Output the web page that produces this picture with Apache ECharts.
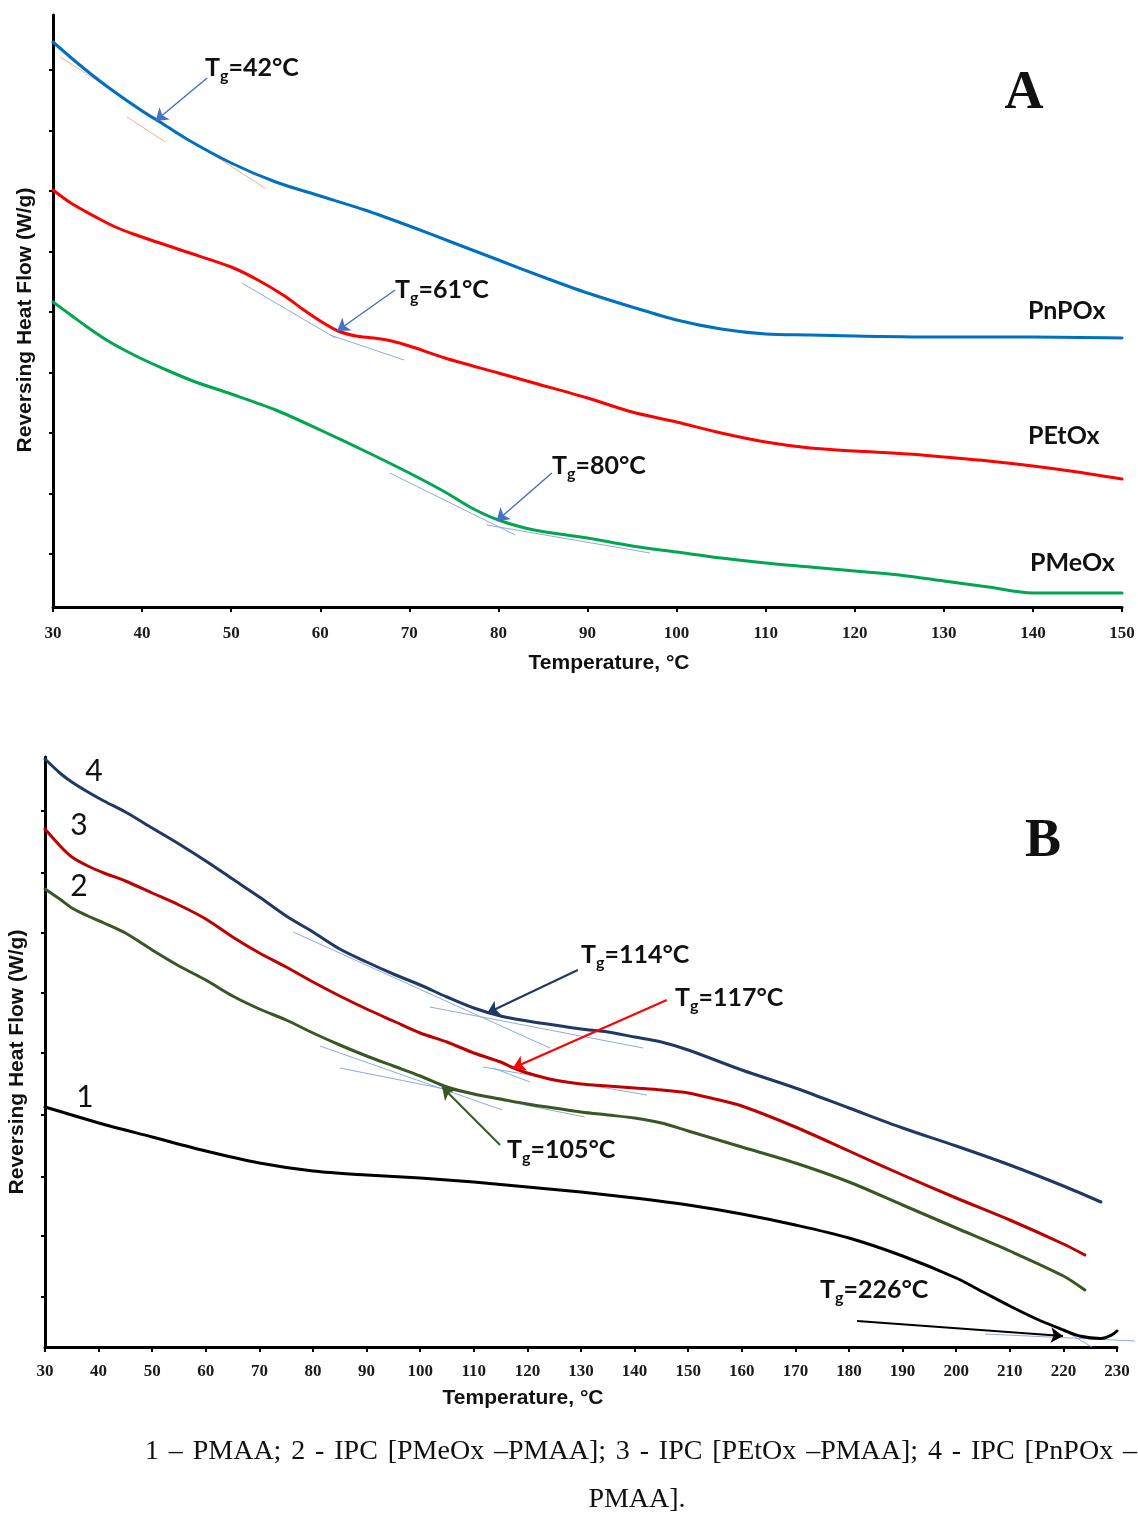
<!DOCTYPE html>
<html>
<head>
<meta charset="utf-8">
<title>Reversing heat flow</title>
<script src="https://cdn.jsdelivr.net/npm/echarts@6.0.0/dist/echarts.min.js"></script>
<style>
  html, body { margin: 0; padding: 0; background: #ffffff; }
  #wrap { position: relative; width: 1138px; height: 1514px; overflow: hidden; }
  #chart { position: absolute; left: 0; top: 0; width: 1138px; height: 1514px; }
  .caption { position: absolute; font-family: "Liberation Serif", "Times New Roman", serif; font-size: 28px; color: #111; white-space: nowrap; line-height: 1; }
  #cap1 { left: 145px; top: 1436px; width: 992px; text-align: justify; text-align-last: justify; white-space: normal; }
  #cap2 { left: 0; top: 1484px; width: 1274px; text-align: center; }
</style>
</head>
<body>
<div id="wrap">
  <div id="chart"></div>
  <div class="caption" id="cap1"></div>
  <div class="caption" id="cap2"></div>
</div>
<script>
// ---------- Panel A: poly(2-oxazoline)s, reversing heat flow (arb. W/g) ----------
const xTicksA = [30, 40, 50, 60, 70, 80, 90, 100, 110, 120, 130, 140, 150];
const yRangeA = [0, 5.92];
const yTicksA = [0.53, 1.135, 1.74, 2.345, 2.95, 3.555, 4.16, 4.765, 5.37];

const tempPnPOx = [30, 33, 36, 40, 42, 45, 50, 55, 60, 65, 70, 75, 80, 85, 90, 95, 100, 105, 110, 115, 120, 130, 140, 150];
const hfPnPOx   = [5.65, 5.42, 5.21, 4.96, 4.85, 4.68, 4.44, 4.25, 4.11, 3.97, 3.81, 3.64, 3.47, 3.30, 3.14, 3.00, 2.87, 2.78, 2.73, 2.72, 2.71, 2.70, 2.70, 2.69];

const tempPEtOx = [30, 32, 35, 37, 39, 42, 45, 50, 53, 56, 58, 60, 62, 64, 66, 68, 70, 74, 80, 84, 90, 95, 100, 105, 110, 115, 120, 126, 130, 135, 140, 145, 150];
const hfPEtOx   = [4.17, 4.04, 3.89, 3.80, 3.73, 3.64, 3.55, 3.40, 3.27, 3.11, 2.98, 2.86, 2.76, 2.71, 2.69, 2.66, 2.61, 2.49, 2.34, 2.24, 2.09, 1.95, 1.85, 1.74, 1.65, 1.59, 1.56, 1.53, 1.50, 1.46, 1.41, 1.35, 1.28];

const tempPMeOx = [30, 32, 34, 36, 38, 40, 43, 46, 50, 55, 60, 65, 70, 74, 77, 80, 84, 90, 95, 100, 105, 110, 115, 120, 125, 130, 135, 140, 145, 150];
const hfPMeOx   = [3.05, 2.92, 2.79, 2.67, 2.57, 2.48, 2.36, 2.25, 2.13, 1.97, 1.77, 1.56, 1.34, 1.15, 0.99, 0.87, 0.77, 0.69, 0.61, 0.55, 0.49, 0.44, 0.40, 0.36, 0.32, 0.26, 0.20, 0.14, 0.14, 0.14];

// tangent construction lines [T1, HF1, T2, HF2]
const tangentsPnPOx = [[30.8, 5.50, 53.8, 4.19], [38.3, 4.90, 42.6, 4.65]];
const tangentsPEtOx = [[51.2, 3.24, 61.7, 2.69], [61.1, 2.72, 69.4, 2.47]];
const tangentsPMeOx = [[67.8, 1.34, 81.9, 0.72], [78.7, 0.82, 97.0, 0.54]];

// glass transitions: label, arrow tail [T, HF], arrow tip [T, HF]
const tgLabelsA = ['42', '61', '80'];
const tgTailsA  = [[47.3, 5.29], [68.4, 3.17], [86.0, 1.34]];
const tgTipsA   = [[41.5, 4.86], [61.9, 2.76], [79.8, 0.86]];

// ---------- Panel B: PMAA and its interpolymer complexes ----------
const xTicksB = [30, 40, 50, 60, 70, 80, 90, 100, 110, 120, 130, 140, 150, 160, 170, 180, 190, 200, 210, 220, 230];
const yRangeB = [0, 5.90];
const yTicksB = [0.50, 1.11, 1.70, 2.32, 2.94, 3.54, 4.14, 4.74, 5.36];

const temp4 = [30, 33, 35, 38, 41, 45, 50, 55, 60, 65, 70, 75, 80, 85, 90, 95, 100, 105, 110, 115, 120, 125, 130, 135, 140, 145, 150, 160, 170, 180, 190, 200, 210, 220, 227];
const hf4   = [5.88, 5.73, 5.65, 5.55, 5.46, 5.35, 5.19, 5.03, 4.86, 4.68, 4.50, 4.31, 4.15, 3.98, 3.85, 3.73, 3.62, 3.50, 3.39, 3.31, 3.26, 3.22, 3.18, 3.15, 3.10, 3.05, 2.97, 2.77, 2.59, 2.39, 2.19, 2.01, 1.82, 1.61, 1.45];

const temp3 = [30, 33, 35, 38, 41, 45, 50, 55, 60, 65, 70, 75, 80, 85, 90, 95, 100, 105, 110, 115, 117, 120, 125, 130, 135, 140, 145, 150, 155, 160, 170, 180, 190, 200, 210, 220, 224];
const hf3   = [5.18, 5.00, 4.90, 4.81, 4.74, 4.66, 4.54, 4.42, 4.28, 4.10, 3.94, 3.80, 3.65, 3.51, 3.38, 3.26, 3.14, 3.05, 2.94, 2.85, 2.80, 2.74, 2.67, 2.63, 2.61, 2.59, 2.57, 2.54, 2.48, 2.41, 2.20, 1.96, 1.72, 1.49, 1.27, 1.03, 0.92];

const temp2 = [30, 33, 35, 38, 41, 45, 50, 55, 60, 65, 70, 75, 80, 85, 90, 95, 100, 105, 110, 115, 120, 125, 130, 135, 140, 145, 150, 160, 170, 180, 190, 200, 210, 220, 224];
const hf2   = [4.58, 4.47, 4.39, 4.31, 4.24, 4.14, 3.97, 3.81, 3.67, 3.51, 3.38, 3.27, 3.14, 3.02, 2.91, 2.81, 2.71, 2.60, 2.53, 2.48, 2.43, 2.39, 2.35, 2.32, 2.29, 2.24, 2.16, 2.00, 1.84, 1.65, 1.42, 1.19, 0.96, 0.71, 0.57];

const temp1 = [30, 35, 40, 50, 60, 70, 80, 90, 100, 110, 120, 130, 140, 150, 160, 170, 180, 190, 200, 205, 210, 215, 220, 223, 227, 229, 230];
const hf1   = [2.40, 2.32, 2.24, 2.10, 1.96, 1.84, 1.76, 1.72, 1.69, 1.65, 1.60, 1.55, 1.49, 1.42, 1.33, 1.22, 1.09, 0.91, 0.69, 0.55, 0.41, 0.28, 0.17, 0.11, 0.085, 0.12, 0.16];

const tangents4 = [[76.3, 4.15, 124.2, 2.99], [101.8, 3.40, 141.6, 2.99]];
const tangents3 = [[113.6, 2.79, 120.5, 2.65], [111.7, 2.80, 142.3, 2.52]];
const tangents2 = [[81.3, 3.01, 115.3, 2.37], [85.0, 2.79, 130.7, 2.30]];
const tangents1 = [[205.4, 0.13, 233.4, 0.06], [219.4, 0.19, 225.3, 0.00]];

const tgLabelsB = ['114', '117', '105', '226'];
const tgTailsB  = [[129.4, 3.77], [146.0, 3.47], [114.9, 2.02], [181.5, 0.26]];
const tgTipsB   = [[112.5, 3.34], [117.3, 2.79], [104.1, 2.60], [219.9, 0.11]];

const curveNamesA = ['PnPOx', 'PEtOx', 'PMeOx'];
const curveNumbersB = ['4', '3', '2', '1'];
const caption = ['1 – PMAA; 2 - IPC [PMeOx –PMAA]; 3 - IPC [PEtOx –PMAA]; 4 - IPC [PnPOx –', 'PMAA].'];

// ---------- styling ----------
const SANS = 'Lato, "Open Sans", "DejaVu Sans", sans-serif';
const ARIAL = '"Liberation Sans", Arial, sans-serif';
const SERIF = '"Liberation Serif", "Times New Roman", serif';
const TANGENT_BLUE = '#8eaadb';
const TANGENT_ORANGE = '#f4b183';

const pair = (xs, ys) => xs.map((x, i) => [x, ys[i]]);
const segs = (list, color) => list.map(s => ({ coords: [[s[0], s[1]], [s[2], s[3]]], lineStyle: { color: color } }));
const arrows = (tails, tips, colors) => tails.map((t, i) => ({ coords: [t, tips[i]], lineStyle: { color: colors[i] } }));

function curve(idx, temps, vals, color) {
  return {
    type: 'line', xAxisIndex: idx, yAxisIndex: idx,
    data: pair(temps, vals), smooth: 0.3,
    symbol: 'none', silent: true, z: 3,
    lineStyle: { color: color, width: 3, cap: 'round', join: 'round' }
  };
}
function lineSet(idx, data, width, withArrow, z) {
  return {
    type: 'lines', coordinateSystem: 'cartesian2d', xAxisIndex: idx, yAxisIndex: idx,
    polyline: false, silent: true, clip: false, z: z, animation: false,
    symbol: withArrow ? ['none', 'arrow'] : ['none', 'none'],
    symbolSize: withArrow ? 12 : 0,
    lineStyle: { width: width, opacity: 1, curveness: 0 },
    data: data
  };
}
function xAxis(idx, ticks, margin) {
  return {
    type: 'value', gridIndex: idx, min: ticks[0], max: ticks[ticks.length - 1], interval: 10,
    axisLine: { show: true, onZero: false, lineStyle: { color: '#000', width: 3 } },
    axisTick: { show: true, inside: false, length: 5, lineStyle: { color: '#000', width: 2 } },
    axisLabel: { show: true, margin: margin, color: '#1a1a1a', fontFamily: SERIF, fontWeight: 'bold', fontSize: 17 },
    splitLine: { show: false }
  };
}
function yAxis(idx, range, ticks) {
  return {
    type: 'value', gridIndex: idx, min: range[0], max: range[1],
    axisLine: { show: true, onZero: false, lineStyle: { color: '#000', width: 3 } },
    axisTick: { show: true, inside: false, length: 4, customValues: ticks, lineStyle: { color: '#000', width: 2 } },
    axisLabel: { show: false },
    splitLine: { show: false }
  };
}
function tgText(num, x, y) {
  return {
    type: 'text', x: x, y: y, silent: true, z: 10,
    style: {
      text: '{m|T}{s|g}{m|=' + num + '°C}',
      textAlign: 'left', textVerticalAlign: 'middle',
      rich: {
        m: { fontFamily: SANS, fontWeight: 'bold', fontSize: 25, lineHeight: 32, fill: '#111', color: '#111' },
        s: { fontFamily: SANS, fontWeight: 'bold', fontSize: 16, lineHeight: 16, padding: [16, 0, 0, 0], fill: '#111', color: '#111' }
      }
    }
  };
}
function plainText(str, x, y, font, align, rotation) {
  return {
    type: 'text', x: x, y: y, rotation: rotation || 0, silent: true, z: 10,
    style: { text: str, font: font, fill: '#111', textAlign: align || 'center', textVerticalAlign: 'middle' }
  };
}

document.getElementById('cap1').textContent = caption[0];
document.getElementById('cap2').textContent = caption[1];

const chart = echarts.init(document.getElementById('chart'), null, { renderer: 'canvas' });

const tgPosA = [[205, 68], [395, 290], [552, 466]];
const tgPosB = [[581, 955], [675, 998], [507, 1150], [820, 1290]];
const namePosA = [[1028, 311], [1028, 436], [1030, 563]];
const numberPosB = [[94, 771], [79, 825], [79, 886], [85, 1097]];

const graphics = [];
tgLabelsA.forEach((t, i) => graphics.push(tgText(t, tgPosA[i][0], tgPosA[i][1])));
tgLabelsB.forEach((t, i) => graphics.push(tgText(t, tgPosB[i][0], tgPosB[i][1])));
curveNamesA.forEach((n, i) => graphics.push(plainText(n, namePosA[i][0], namePosA[i][1], 'bold 25px ' + SANS, 'left')));
curveNumbersB.forEach((n, i) => graphics.push(plainText(n, numberPosB[i][0], numberPosB[i][1], '30px ' + SANS, 'center')));
graphics.push(plainText('A', 1024, 94, 'bold 54px ' + SERIF));
graphics.push(plainText('B', 1043, 842, 'bold 54px ' + SERIF));
graphics.push(plainText('Temperature, °C', 609, 663, 'bold 21px ' + ARIAL));
graphics.push(plainText('Temperature, °C', 523, 1398, 'bold 21px ' + ARIAL));
graphics.push(plainText('Reversing Heat Flow (W/g)', 25, 320, 'bold 21px ' + ARIAL, 'center', Math.PI / 2));
graphics.push(plainText('Reversing Heat Flow (W/g)', 17, 1062, 'bold 21px ' + ARIAL, 'center', Math.PI / 2));

chart.setOption({
  backgroundColor: 'transparent',
  animation: false,
  grid: [
    { left: 53, top: 15, width: 1069, height: 592, containLabel: false, outerBoundsMode: 'none' },
    { left: 45, top: 757, width: 1072, height: 590, containLabel: false, outerBoundsMode: 'none' }
  ],
  xAxis: [xAxis(0, xTicksA, 18), xAxis(1, xTicksB, 16)],
  yAxis: [yAxis(0, yRangeA, yTicksA), yAxis(1, yRangeB, yTicksB)],
  series: [
    lineSet(0, segs(tangentsPnPOx, TANGENT_ORANGE).concat(segs(tangentsPEtOx, TANGENT_BLUE), segs(tangentsPMeOx, TANGENT_BLUE)), 1, false, 1),
    curve(0, tempPnPOx, hfPnPOx, '#0070c0'),
    curve(0, tempPEtOx, hfPEtOx, '#ff0000'),
    curve(0, tempPMeOx, hfPMeOx, '#00a650'),
    lineSet(0, arrows(tgTailsA, tgTipsA, ['#4472c4', '#4472c4', '#4472c4']), 1.5, true, 5),

    lineSet(1, segs(tangents4, TANGENT_BLUE).concat(segs(tangents3, TANGENT_BLUE), segs(tangents2, TANGENT_BLUE), segs(tangents1, TANGENT_BLUE)), 1, false, 1),
    curve(1, temp4, hf4, '#203864'),
    curve(1, temp3, hf3, '#c00000'),
    curve(1, temp2, hf2, '#385723'),
    curve(1, temp1, hf1, '#000000'),
    lineSet(1, arrows(tgTailsB, tgTipsB, ['#203864', '#ff0000', '#385723', '#000000']), 2, true, 5)
  ],
  graphic: graphics
});
</script>
</body>
</html>
